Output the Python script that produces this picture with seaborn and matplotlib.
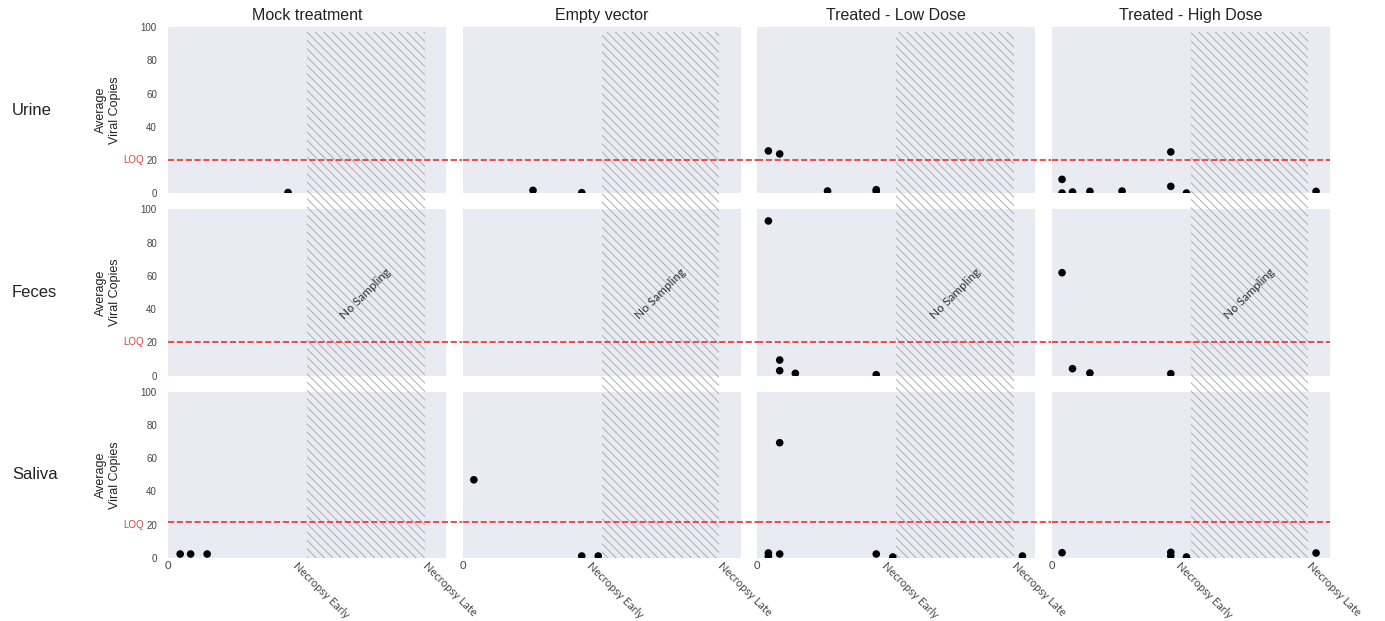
import matplotlib
matplotlib.use("Agg")
import matplotlib.pyplot as plt
import seaborn as sns
import pandas as pd
from matplotlib.patches import Rectangle

# ---------------- data ----------------
groups = ["Mock treatment", "Empty vector", "Treated - Low Dose", "Treated - High Dose"]
samples = ["Urine", "Feces", "Saliva"]
tick_days = [0, 15, 30]
tick_labels = ["0", "Necropsy Early", "Necropsy Late"]
loq_values = [20, 20, 21.5]
no_sampling_start = 16
no_sampling_end = 29.5

urine_mock_day = [13.8]
urine_mock_copies = [0.5]
urine_empty_day = [8.1, 13.7]
urine_empty_copies = [1.8, 0.4]
urine_low_day = [1.3, 2.6, 8.1, 13.7, 13.7]
urine_low_copies = [25.5, 23.7, 1.4, 2.2, 1.2]
urine_high_day = [1.2, 1.2, 2.4, 4.4, 8.1, 13.7, 13.7, 15.5, 30.4]
urine_high_copies = [8.4, 0.2, 0.8, 1.2, 1.4, 24.9, 4.2, 0.2, 1.2]

feces_mock_day = []
feces_mock_copies = []
feces_empty_day = []
feces_empty_copies = []
feces_low_day = [1.3, 2.6, 2.6, 4.4, 13.7]
feces_low_copies = [93.0, 9.4, 3.0, 1.4, 0.6]
feces_high_day = [1.2, 2.4, 4.4, 13.7]
feces_high_copies = [61.9, 4.2, 1.6, 1.2]

saliva_mock_day = [1.4, 2.6, 4.5]
saliva_mock_copies = [2.4, 2.4, 2.4]
saliva_empty_day = [1.3, 13.7, 15.6]
saliva_empty_copies = [47.0, 1.2, 1.2]
saliva_low_day = [2.6, 1.3, 1.3, 2.6, 13.7, 15.6, 30.5]
saliva_low_copies = [69.3, 3.0, 1.2, 2.4, 2.4, 0.6, 1.2]
saliva_high_day = [1.2, 13.7, 13.7, 15.5, 30.4]
saliva_high_copies = [3.2, 3.4, 1.2, 0.6, 3.0]

panel_data = {
    ("Urine", groups[0]): (urine_mock_day, urine_mock_copies),
    ("Urine", groups[1]): (urine_empty_day, urine_empty_copies),
    ("Urine", groups[2]): (urine_low_day, urine_low_copies),
    ("Urine", groups[3]): (urine_high_day, urine_high_copies),
    ("Feces", groups[0]): (feces_mock_day, feces_mock_copies),
    ("Feces", groups[1]): (feces_empty_day, feces_empty_copies),
    ("Feces", groups[2]): (feces_low_day, feces_low_copies),
    ("Feces", groups[3]): (feces_high_day, feces_high_copies),
    ("Saliva", groups[0]): (saliva_mock_day, saliva_mock_copies),
    ("Saliva", groups[1]): (saliva_empty_day, saliva_empty_copies),
    ("Saliva", groups[2]): (saliva_low_day, saliva_low_copies),
    ("Saliva", groups[3]): (saliva_high_day, saliva_high_copies),
}
rows = []
for (s, g), (days, vals) in panel_data.items():
    for d, v in zip(days, vals):
        rows.append({"sample": s, "group": g, "day": d, "copies": v})
df = pd.DataFrame(rows)

# ---------------- style ----------------
sns.set_style("dark")
plt.rcParams["font.family"] = ["Liberation Sans", "DejaVu Sans"]
plt.rcParams["hatch.linewidth"] = 0.6
plt.rcParams["hatch.color"] = "#a3a3a8"

W, H = 1385, 621
fig, axes = plt.subplots(3, 4, figsize=(W / 100, H / 100), dpi=100, sharex=True, sharey=True)
left, right, top, bottom = 168 / W, 1330 / W, 1 - 27 / H, 1 - 558 / H
fig.subplots_adjust(left=left, right=right, top=top, bottom=bottom, wspace=0.058, hspace=0.096)

ax_w_px = (right - left) * W / (4 + 3 * 0.058)
gap_frac = 16 / ax_w_px
ax_h_px = (top - bottom) * H / (3 + 2 * 0.096)
vgap_units = 16 / ax_h_px * 100

label_font = ["Lato", "DejaVu Sans"]

for r, s in enumerate(samples):
    for c, g in enumerate(groups):
        ax = axes[r, c]
        sub = df[(df["sample"] == s) & (df["group"] == g)]
        if len(sub):
            sns.scatterplot(data=sub, x="day", y="copies", ax=ax, color="black",
                            s=30, edgecolor="none", zorder=4, legend=False)
        ax.set_xlim(0, 32)
        ax.set_ylim(0, 100)
        ax.set_xlabel("")
        ax.set_ylabel("")
        for sp in ax.spines.values():
            sp.set_visible(False)

        top_val = 97 if r == 0 else 100 + vgap_units
        rect = Rectangle((no_sampling_start, 0), no_sampling_end - no_sampling_start, top_val,
                         facecolor="none", edgecolor="#a3a3a8", linewidth=0,
                         hatch="\\\\\\\\", clip_on=False, zorder=2)
        ax.add_patch(rect)

        xmax = 1 + gap_frac if c < 3 else 1.0
        ax.axhline(loq_values[r], xmin=0, xmax=xmax, color="#e8302f", ls="--",
                   lw=1.2, clip_on=False, zorder=3)

        if r == 1:
            ax.text((no_sampling_start + no_sampling_end) / 2, 49, "No Sampling",
                    rotation=45, ha="center", va="center", fontsize=8.5,
                    color="#333333", family=label_font, zorder=5)

        ax.set_yticks([0, 20, 40, 60, 80, 100])
        ax.tick_params(axis="y", labelsize=7, labelcolor="#444444", pad=8, length=0)
        ax.tick_params(axis="x", length=0)

        if r == 0:
            ax.set_title(g, fontsize=11.5, color="#222222", pad=5)

        if c == 0:
            ax.set_ylabel("Average\nViral Copies", fontsize=9, color="#222222")
            ax.yaxis.set_label_coords(-0.17, 0.5)
            ax.text(-0.56, 0.5, s, transform=ax.transAxes, fontsize=12,
                    ha="left", va="center", color="#222222")
            ax.text(-0.088, 20, "LOQ", transform=ax.get_yaxis_transform(),
                    fontsize=7, color="#d9443f", ha="right", va="center")

for c in range(4):
    ax = axes[2, c]
    ax.set_xticks(tick_days)
    ax.set_xticklabels(tick_labels)
    for i, lab in enumerate(ax.get_xticklabels()):
        lab.set_fontfamily(label_font)
        lab.set_fontsize(8)
        lab.set_color("#444444")
        if i == 0:
            lab.set_rotation(0)
            lab.set_ha("center")
        else:
            lab.set_rotation(-45)
            lab.set_ha("left")
            lab.set_va("top")
            lab.set_rotation_mode("anchor")
    ax.tick_params(axis="x", pad=1.5)

fig.savefig("out.png", dpi=100)
